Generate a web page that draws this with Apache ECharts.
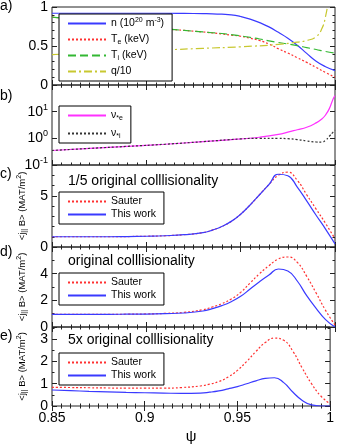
<!DOCTYPE html>
<html lang="en">
<head>
<meta charset="UTF-8">
<title>profiles</title>
<script src="https://cdn.jsdelivr.net/npm/echarts@6/dist/echarts.min.js"></script>
<style>
  html, body { margin: 0; padding: 0; background: #fff; }
  #main { width: 337px; height: 445px; }
</style>
</head>
<body>
<div id="main"></div>
<script>
// common psi grid
var psi = [0.85, 0.86, 0.87, 0.88, 0.89, 0.90, 0.91, 0.92, 0.93, 0.935, 0.94, 0.945, 0.95, 0.955,
           0.96, 0.965, 0.97, 0.975, 0.98, 0.985, 0.99, 0.995, 1.0];

// a) profiles
var nDens = [0.92, 0.92, 0.92, 0.92, 0.92, 0.92, 0.92, 0.918, 0.915, 0.913, 0.908, 0.90, 0.878, 0.845,
             0.80, 0.745, 0.675, 0.60, 0.51, 0.405, 0.305, 0.235, 0.185];
var tElec = [0.87, 0.845, 0.82, 0.795, 0.77, 0.745, 0.72, 0.70, 0.68, 0.668, 0.655, 0.64, 0.625, 0.60,
             0.57, 0.525, 0.465, 0.41, 0.35, 0.29, 0.225, 0.16, 0.10];
var tIon = [0.87, 0.845, 0.82, 0.795, 0.77, 0.745, 0.72, 0.70, 0.68, 0.67, 0.66, 0.645, 0.63, 0.61,
            0.59, 0.565, 0.545, 0.525, 0.505, 0.48, 0.455, 0.43, 0.41];
var psiQ = [0.85, 0.87, 0.89, 0.91, 0.93, 0.95, 0.97, 0.98, 0.985, 0.99, 0.993, 0.995, 0.997];
var qOver10 = [0.39, 0.41, 0.43, 0.45, 0.47, 0.49, 0.52, 0.55, 0.57, 0.62, 0.72, 0.88, 1.15];

// b) collisionality
var psiNu = [0.85, 0.87, 0.89, 0.91, 0.93, 0.95, 0.96, 0.97, 0.975, 0.98, 0.985, 0.99, 0.993, 0.995, 0.997, 0.999, 1.0];
var nuE = [0.35, 0.42, 0.5, 0.6, 0.75, 0.95, 1.1, 1.4, 1.7, 2.1, 2.6, 3.8, 5.3, 7.5, 13, 30, 40];
var nuI = [0.35, 0.42, 0.5, 0.6, 0.75, 0.95, 1.0, 1.0, 0.97, 0.9, 0.8, 0.73, 0.72, 0.85, 1.2, 1.7, 2.0];

// c) 1/5 collisionality
var sauterC = [1.0, 1.0, 1.0, 1.0, 1.02, 1.05, 1.1, 1.2, 1.4, 1.65, 2.0, 2.5, 3.2, 4.1,
               5.1, 6.1, 7.0, 7.3, 6.5, 5.1, 3.7, 2.3, 0.8];
var workC = [1.0, 1.0, 1.0, 1.0, 1.02, 1.05, 1.1, 1.2, 1.4, 1.65, 2.0, 2.5, 3.2, 4.1,
             5.1, 6.1, 7.1, 6.95, 5.85, 4.5, 3.1, 1.75, 0.3];

// d) original collisionality
var sauterD = [0.95, 0.95, 0.95, 0.95, 0.96, 0.98, 1.02, 1.1, 1.3, 1.5, 1.75, 2.1, 2.6, 3.3,
               4.0, 4.6, 5.1, 5.25, 4.85, 3.8, 2.55, 1.25, 0.15];
var workD = [0.95, 0.95, 0.95, 0.95, 0.96, 0.97, 1.0, 1.05, 1.2, 1.38, 1.6, 1.9, 2.3, 2.85,
             3.4, 3.9, 4.35, 4.2, 3.45, 2.35, 1.4, 0.55, 0.0];

// e) 5x collisionality
var sauterE = [0.84, 0.83, 0.82, 0.81, 0.80, 0.80, 0.80, 0.83, 0.9, 0.98, 1.1, 1.3, 1.6, 2.0,
               2.45, 2.85, 3.05, 2.95, 2.45, 1.7, 1.0, 0.45, 0.1];
var workE = [0.72, 0.69, 0.66, 0.635, 0.61, 0.595, 0.58, 0.565, 0.58, 0.62, 0.68, 0.77, 0.87, 1.0,
             1.13, 1.24, 1.27, 1.05, 0.62, 0.25, 0.05, 0.0, 0.0];

var xTicks = [0.85, 0.9, 0.95, 1];

var FONT = 'Liberation Sans, Arial, sans-serif';
var rich = {
    sup: { fontSize: 7, lineHeight: 7, verticalAlign: 'top' },
    sub: { fontSize: 7, lineHeight: 7, verticalAlign: 'bottom' }
};

var grids = [
    { left: 52, right: 2, top: 5, height: 80 },
    { left: 52, right: 2, top: 85, height: 80 },
    { left: 52, right: 2, top: 165, height: 82 },
    { left: 52, right: 2, top: 247, height: 80 },
    { left: 52, right: 2, top: 327, height: 81 }
];
grids.forEach(function (g) { g.show = true; g.borderColor = '#222'; g.borderWidth = 1; });

var xAxes = [], yAxes = [];
var yCfg = [
    { min: 0, max: 1, interval: 0.5, minor: 5, showMax: true },
    { type: 'log', min: 0.1, max: 100, showMax: false },
    { min: 0, max: 8, interval: 5, minor: 5, showMax: false },
    { min: 0, max: 6, interval: 2, minor: 2, showMax: false },
    { min: 0, max: 3.55, interval: 1, minor: 2, showMax: false }
];
var yName = '<j{sub|||} B> (MAT/m{sup|2})';

grids.forEach(function (g, i) {
    ['bottom', 'top'].forEach(function (pos) {
        xAxes.push({
            type: 'value', gridIndex: i, position: pos,
            min: 0.85, max: 1, interval: 0.05,
            axisLine: { show: false },
            axisTick: { inside: true, length: 5, lineStyle: { color: '#222' } },
            minorTick: { show: true, splitNumber: 10, length: 2.5, lineStyle: { color: '#222' } },
            splitLine: { show: false },
            axisLabel: {
                show: pos === 'bottom' && i === 4, fontSize: 14, color: '#000', margin: 5,
                formatter: function (v) {
                    var t = xTicks.filter(function (k) { return Math.abs(k - v) < 1e-6; });
                    return t.length ? String(t[0]) : '';
                }
            },
            name: (pos === 'bottom' && i === 4) ? 'ψ' : '',
            nameLocation: 'middle', nameGap: 23,
            nameTextStyle: { fontSize: 15, color: '#000' }
        });
    });
    var c = yCfg[i];
    ['left', 'right'].forEach(function (pos) {
        var ax = {
            type: c.type || 'value', gridIndex: i, position: pos,
            min: c.min, max: c.max,
            axisLine: { show: false },
            axisTick: { inside: true, length: 5, lineStyle: { color: '#222' } },
            splitLine: { show: false },
            axisLabel: {
                show: pos === 'left', fontSize: 14, color: '#000', margin: 4,
                showMaxLabel: c.showMax, showMinLabel: true
            }
        };
        if (c.type === 'log') {
            ax.logBase = 10;
            ax.axisLabel.formatter = function (v) {
                return '10{sup|' + Math.round(Math.log10(v)) + '}';
            };
            ax.axisLabel.rich = { sup: { fontSize: 9, lineHeight: 9, verticalAlign: 'top' } };
            ax.axisLabel.lineHeight = 18;
        } else {
            ax.interval = c.interval;
            ax.minorTick = { show: true, splitNumber: c.minor, length: 2.5, lineStyle: { color: '#222' } };
        }
        if (pos === 'left' && i >= 2) {
            ax.name = yName;
            ax.nameLocation = 'middle';
            ax.nameRotate = 90;
            ax.nameGap = 24;
            ax.nameTextStyle = { fontSize: 9.5, color: '#000', lineHeight: 12, rich: rich };
        }
        yAxes.push(ax);
    });
});

function line(name, gi, xs, ys, color, dash) {
    return {
        type: 'line', name: name, xAxisIndex: gi * 2, yAxisIndex: gi * 2,
        data: xs.map(function (x, k) { return [x, ys[k]]; }),
        symbol: 'none', smooth: 0.5, clip: true,
        lineStyle: { color: color, width: 1.2, type: dash },
        itemStyle: { color: color },
        z: 3
    };
}

var BLUE = '#3a3aff', RED = '#ff3030', GREEN = '#33b833', YEL = '#c8c830', MAG = '#ff30ff', BLK = '#333333';
var DOT = [2, 2], DASH = [8, 4], DASHDOT = [8, 3, 2, 3];

var series = [
    line('n', 0, psi, nDens, BLUE, 'solid'),
    line('Te', 0, psi, tElec, RED, DOT),
    line('Ti', 0, psi, tIon, GREEN, DASH),
    line('q/10', 0, psiQ, qOver10, YEL, DASHDOT),
    line('nue', 1, psiNu, nuE, MAG, 'solid'),
    line('nui', 1, psiNu, nuI, BLK, DOT),
    line('Sauter', 2, psi, sauterC, RED, DOT),
    line('This work', 2, psi, workC, BLUE, 'solid'),
    line('Sauter', 3, psi, sauterD, RED, DOT),
    line('This work', 3, psi, workD, BLUE, 'solid'),
    line('Sauter', 4, psi, sauterE, RED, DOT),
    line('This work', 4, psi, workE, BLUE, 'solid')
];

var legendNames = {
    'n': 'n (10{sup|20} m{sup|-3})',
    'Te': 'T{sub|e} (keV)',
    'Ti': 'T{sub|i} (keV)',
    'q/10': 'q/10',
    'nue': 'ν{sub|*e}',
    'nui': 'ν{sub|*i}',
    'Sauter': 'Sauter',
    'This work': 'This work'
};

function legend(names, top, gap) {
    return {
        data: names, orient: 'vertical', left: 59, top: top,
        backgroundColor: '#fff', borderColor: '#000', borderWidth: 1, borderRadius: 0,
        padding: [3, 8, 3, 8], itemGap: gap, itemWidth: 38, itemHeight: 10,
        selectedMode: false,
        itemStyle: { opacity: 0 },
        formatter: function (n) { return legendNames[n]; },
        textStyle: { fontSize: 10.5, color: '#000', lineHeight: 13, rich: rich }
    };
}

var titles = [
    ['a)', 0, -1], ['b)', 0, 89], ['c)', 0, 167], ['d)', 0, 245], ['e)', 0, 329]
].map(function (t) {
    return { text: t[0], left: t[1], top: t[2], padding: 0,
        textStyle: { fontSize: 14, fontWeight: 'normal', color: '#000' } };
});
[['1/5 original colllisionality', 174], ['original colllisionality', 254], ['5x original colllisionality', 333]].forEach(function (t) {
    titles.push({ text: t[0], left: 68, top: t[1], padding: 0,
        textStyle: { fontSize: 14, fontWeight: 'normal', color: '#000' } });
});

var chart = echarts.init(document.getElementById('main'));
chart.setOption({
    animation: false,
    backgroundColor: '#fff',
    textStyle: { fontFamily: FONT },
    title: titles,
    grid: grids,
    xAxis: xAxes,
    yAxis: yAxes,
    legend: [
        legend(['n', 'Te', 'Ti', 'q/10'], 14, 3),
        legend(['nue', 'nui'], 106, 5),
        legend(['Sauter', 'This work'], 192, 0),
        legend(['Sauter', 'This work'], 273, 0),
        legend(['Sauter', 'This work'], 353, 0)
    ],
    series: series
});
</script>
</body>
</html>
